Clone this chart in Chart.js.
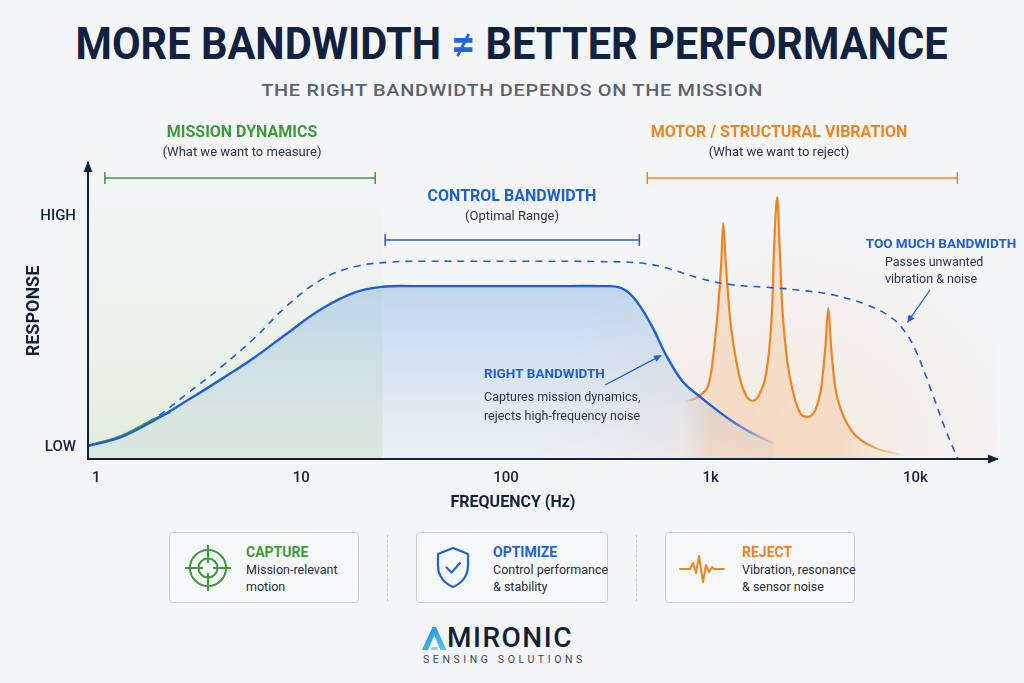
<!DOCTYPE html>
<html>
<head>
<meta charset="utf-8">
<script src="https://cdn.jsdelivr.net/npm/chart.js@4.4.1/dist/chart.umd.min.js"></script>
<style>
  html, body { margin: 0; padding: 0; }
  body {
    width: 1024px; height: 683px; position: relative; overflow: hidden;
    background: #f4f5f7; color: #12233f;
    font-family: Roboto, "Noto Sans", sans-serif;
  }
  .fit { position: absolute; left: 0; width: 1024px; text-align: center; white-space: nowrap; }
  .fit .inner { display: inline-block; transform-origin: center; }
  #title { top: 19px; font-size: 44px; font-weight: 700; line-height: 50px; color: #10223f; }
  #title .neq { color: #1f66dc; }
  #subtitle { top: 79px; font-size: 17px; font-weight: 500; line-height: 22px; color: #5c636d; letter-spacing: 0.6px; }
  #chart { position: absolute; left: 0; top: 100px; }
  .card {
    position: absolute; top: 532px; width: 188px; height: 69px;
    border: 1px solid #c9ced6; border-radius: 4px; background: #f7f8fa;
  }
  .card svg { position: absolute; }
  .card .ct { position: absolute; left: 76px; top: 10px; font-size: 14px; font-weight: 700; line-height: 18px; }
  .card .cd { position: absolute; left: 76px; top: 28px; font-size: 12.5px; line-height: 17px; color: #262d38; white-space: nowrap; }
  .sep { position: absolute; top: 535px; height: 66px; border-left: 1px dashed #c6cad1; }
  #logo { position: absolute; left: 422px; top: 624px; width: 170px; height: 44px; }
  #logo .name { position: absolute; left: 25px; top: 0; font-size: 28px; font-weight: 500; letter-spacing: 1.5px; line-height: 28px; color: #13203a; }
  #logo .tag { position: absolute; left: 1px; top: 30px; font-size: 10.5px; letter-spacing: 3.6px; color: #3a4556; line-height: 12px; white-space: nowrap; }
</style>
</head>
<body>
<div id="title" class="fit"><span class="inner">MORE BANDWIDTH <span class="neq">≠</span> BETTER PERFORMANCE</span></div>
<div id="subtitle" class="fit"><span class="inner">THE RIGHT BANDWIDTH DEPENDS ON THE MISSION</span></div>

<canvas id="chart" width="1024" height="420"></canvas>

<div class="card" style="left:169px">
  <svg style="left:14px;top:11px" width="48" height="48" viewBox="-24 -24 48 48" fill="none" stroke="#3d9a3a" stroke-width="2">
    <circle r="18"/><circle r="9.5"/>
    <path d="M0 -23V-5M0 5V23M-23 0H-5M5 0H23"/>
  </svg>
  <div class="ct" style="color:#3d9a3a">CAPTURE</div>
  <div class="cd">Mission-relevant<br>motion</div>
</div>
<div class="sep" style="left:387px"></div>
<div class="card" style="left:416px;width:190px">
  <svg style="left:16px;top:13px" width="40" height="44" viewBox="0 0 40 44" fill="none" stroke="#1f63d6" stroke-width="2.2" stroke-linejoin="round" stroke-linecap="round">
    <path d="M20 2 L35 8 V20 C35 30 28.5 37.5 20 41 C11.5 37.5 5 30 5 20 V8 Z"/>
    <path d="M13.5 21.5 L18.5 26.5 L27 17"/>
  </svg>
  <div class="ct" style="color:#1f63d6">OPTIMIZE</div>
  <div class="cd">Control performance<br>&amp; stability</div>
</div>
<div class="sep" style="left:636px"></div>
<div class="card" style="left:665px">
  <svg style="left:13px;top:20px" width="46" height="32" viewBox="0 0 46 32" fill="none" stroke="#f0841f" stroke-width="2" stroke-linejoin="round" stroke-linecap="round">
    <path d="M1 16 H11 L14 10 L17 20 L20 3 L24 29 L27 12 L30 19 L33 14 L35 16 H45"/>
  </svg>
  <div class="ct" style="color:#f0841f">REJECT</div>
  <div class="cd">Vibration, resonance<br>&amp; sensor noise</div>
</div>

<div id="logo">
  <svg style="position:absolute;left:0;top:3px" width="25" height="23" viewBox="0 0 25 23">
    <defs>
      <linearGradient id="lg" x1="0" y1="0" x2="1" y2="1">
        <stop offset="0" stop-color="#1c8fe0"/><stop offset="1" stop-color="#58c6f4"/>
      </linearGradient>
    </defs>
    <path d="M0 23 L10.5 0 H14 L24.5 23 H18.5 L12.2 8.5 L6 23 Z" fill="url(#lg)"/>
    <path d="M8.5 23 A3.8 3.8 0 0 1 16 23 Z" fill="#7fd3f7"/>
  </svg>
  <div class="name">MIRONIC</div>
  <div class="tag">SENSING SOLUTIONS</div>
</div>

<script>
// ---- data ----
const xTickValues = [1, 10, 100, 1000, 10000];
const xTickLabels = ['1', '10', '100', '1k', '10k'];
const yTickValues = [4, 82];
const yTickLabels = ['LOW', 'HIGH'];

// right bandwidth (solid blue)
const rightFreq = [0.91, 1.32, 1.93, 2.8, 4.06, 5.94, 8.6, 12.5, 18.3, 25, 35, 60, 110, 200, 300, 361, 418, 506, 612, 733, 888, 1073, 1290, 1560, 2020];
const rightResp = [4.4, 7.4, 13.2, 19.9, 26.9, 34.4, 42.6, 50.6, 56.3, 58.2, 58.4, 58.4, 58.4, 58.4, 58.4, 57.9, 54.7, 46, 34.5, 26, 21, 16.5, 12.5, 9.1, 5.4];

// too much bandwidth (dashed blue)
const wideFreq = [0.91, 1.32, 1.93, 2.8, 4.06, 5.94, 8.6, 12.5, 18.3, 27, 40, 80, 150, 280, 453, 612, 888, 1290, 1885, 2735, 3980, 5820, 7540, 8750, 10000, 12100, 14000, 16100];
const wideResp = [4.4, 7.5, 13.8, 22.3, 31, 41, 52, 60.5, 65, 66.5, 66.8, 66.8, 66.8, 66.7, 66.2, 64.5, 61, 58.8, 58, 57, 55.4, 52, 48, 43.6, 36.8, 22, 10, 0];

// mission dynamics (short green line at low frequency)
const missionFreq = [0.91, 1.32, 1.93, 2.3];
const missionResp = [4.6, 7.8, 13.6, 15.8];

// motor / structural vibration (orange resonances)
const vibFreq = [733, 888, 995, 1073, 1125, 1150, 1185, 1245, 1350, 1446, 1595, 1740, 1885, 1995, 2040, 2113, 2170, 2236, 2360, 2530, 2735, 2963, 3235, 3465, 3630, 3750, 3870, 4055, 4390, 4970, 6210, 8410];
const vibResp = [19.3, 21.6, 27.7, 47, 66, 79.7, 66, 47, 31, 23.3, 19.6, 22.3, 31, 51, 71.6, 88.5, 71.6, 51, 33.4, 22.3, 15.5, 14.2, 16.5, 24.3, 37.8, 51, 37.8, 24.3, 15.5, 8.8, 4.1, 1.4];

// frequency ranges of the three brackets
const bandStart = [1.1, 25.7, 490];
const bandEnd = [23, 448, 16000];

// ---- colours ----
const BLUE = '#1e5fd4';
const ORANGE = '#f0841f';
const GREEN = '#3d9a3a';
const DARK = '#14233c';

const pts = (xs, ys) => xs.map((f, i) => ({ x: f, y: ys[i] }));

function hGrad(chart, stops) {
  const x = chart.scales.x;
  const g = chart.ctx.createLinearGradient(x.left, 0, x.right, 0);
  const w = x.right - x.left;
  stops.forEach(([f, c]) => g.addColorStop(Math.min(1, Math.max(0, (x.getPixelForValue(f) - x.left) / w)), c));
  return g;
}

function arrow(ctx, x1, y1, x2, y2, color) {
  const a = Math.atan2(y2 - y1, x2 - x1);
  ctx.strokeStyle = color; ctx.fillStyle = color; ctx.lineWidth = 1.3;
  ctx.beginPath(); ctx.moveTo(x1, y1); ctx.lineTo(x2 - 5 * Math.cos(a), y2 - 5 * Math.sin(a)); ctx.stroke();
  ctx.beginPath();
  ctx.moveTo(x2, y2);
  ctx.lineTo(x2 - 8 * Math.cos(a) + 3.5 * Math.sin(a), y2 - 8 * Math.sin(a) - 3.5 * Math.cos(a));
  ctx.lineTo(x2 - 8 * Math.cos(a) - 3.5 * Math.sin(a), y2 - 8 * Math.sin(a) + 3.5 * Math.cos(a));
  ctx.closePath(); ctx.fill();
}

function text(ctx, s, x, y, font, color, align) {
  ctx.font = font; ctx.fillStyle = color;
  ctx.textAlign = align || 'center'; ctx.textBaseline = 'middle';
  ctx.fillText(s, x, y);
}

const overlay = {
  id: 'overlay',
  beforeDatasetsDraw(chart) {
    const { ctx, chartArea: a, scales: { x } } = chart;
    ctx.save();
    ctx.beginPath(); ctx.rect(a.left, a.top, a.right - a.left, a.bottom - a.top); ctx.clip();
    // green tint over the mission dynamics zone, fading upwards
    const gx = x.getPixelForValue(25);
    const g = ctx.createLinearGradient(0, a.top, 0, a.bottom);
    g.addColorStop(0, 'rgba(170,210,130,0)');
    g.addColorStop(0.45, 'rgba(160,205,120,0.06)');
    g.addColorStop(1, 'rgba(150,200,105,0.18)');
    ctx.fillStyle = g;
    ctx.fillRect(a.left, a.top, gx - a.left, a.bottom - a.top);
    // soft orange glow behind the resonances
    ctx.translate(x.getPixelForValue(2400), a.bottom);
    ctx.scale(1.1, 1);
    const r = ctx.createRadialGradient(0, 0, 0, 0, 0, 230);
    r.addColorStop(0, 'rgba(255,165,95,0.15)');
    r.addColorStop(0.6, 'rgba(255,175,110,0.07)');
    r.addColorStop(1, 'rgba(255,180,120,0)');
    ctx.fillStyle = r;
    ctx.fillRect(-240, -240, 480, 240);
    ctx.restore();
  },
  afterDraw(chart) {
    const { ctx, chartArea: a, scales: { x } } = chart;
    ctx.save();
    // axis arrow heads
    ctx.fillStyle = DARK;
    ctx.beginPath(); ctx.moveTo(a.left, a.top - 2); ctx.lineTo(a.left - 4.5, a.top + 9); ctx.lineTo(a.left + 4.5, a.top + 9); ctx.closePath(); ctx.fill();
    ctx.beginPath(); ctx.moveTo(a.right + 2, a.bottom); ctx.lineTo(a.right - 9, a.bottom - 4.5); ctx.lineTo(a.right - 9, a.bottom + 4.5); ctx.closePath(); ctx.fill();

    text(ctx, 'FREQUENCY (Hz)', 513, 403, 'bold 16px Roboto', DARK);

    // bracket labels
    const bands = [
      { c: GREEN, y: 78, t: 'MISSION DYNAMICS', s: '(What we want to measure)', tx: 242, ty: 33 },
      { c: BLUE, y: 140, t: 'CONTROL BANDWIDTH', s: '(Optimal Range)', tx: 512, ty: 97 },
      { c: ORANGE, y: 78, t: 'MOTOR / STRUCTURAL VIBRATION', s: '(What we want to reject)', tx: 779, ty: 33 }
    ];
    bands.forEach((b, i) => {
      text(ctx, b.t, b.tx, b.ty, 'bold 16px Roboto', b.c);
      text(ctx, b.s, b.tx, b.ty + 20, '13px Roboto', '#2b3440');
      const x1 = x.getPixelForValue(bandStart[i]);
      const x2 = x.getPixelForValue(bandEnd[i]);
      ctx.strokeStyle = b.c; ctx.lineWidth = 1.5;
      ctx.beginPath();
      ctx.moveTo(x1, b.y); ctx.lineTo(x2, b.y);
      ctx.moveTo(x1, b.y - 6); ctx.lineTo(x1, b.y + 6);
      ctx.moveTo(x2, b.y - 6); ctx.lineTo(x2, b.y + 6);
      ctx.stroke();
    });

    // call-outs
    text(ctx, 'TOO MUCH BANDWIDTH', 941, 145, 'bold 13.5px Roboto', BLUE);
    text(ctx, 'Passes unwanted', 885, 163, '12.5px Roboto', '#2b3440', 'left');
    text(ctx, 'vibration & noise', 885, 180, '12.5px Roboto', '#2b3440', 'left');
    arrow(ctx, 930, 190, 907, 223, BLUE);

    text(ctx, 'RIGHT BANDWIDTH', 484, 275, 'bold 13.5px Roboto', BLUE, 'left');
    text(ctx, 'Captures mission dynamics,', 484, 298, '12.5px Roboto', '#2b3440', 'left');
    text(ctx, 'rejects high-frequency noise', 484, 317, '12.5px Roboto', '#2b3440', 'left');
    arrow(ctx, 605, 285, 662, 255, BLUE);
    ctx.restore();
  }
};

new Chart(document.getElementById('chart'), {
  type: 'line',
  data: {
    datasets: [
      {
        label: 'Right bandwidth',
        data: pts(rightFreq, rightResp),
        order: 0,
        borderWidth: 2.4,
        borderColor: c => c.chart.chartArea ? hGrad(c.chart, [[1150, 'rgba(30,95,212,1)'], [2100, 'rgba(30,95,212,0.05)']]) : BLUE,
        fill: 'origin',
        backgroundColor: c => {
          const ch = c.chart, a = ch.chartArea;
          if (!a) return 'rgba(60,130,215,0.2)';
          const y = ch.scales.y;
          const g = ch.ctx.createLinearGradient(0, y.getPixelForValue(60), 0, a.bottom);
          g.addColorStop(0, 'rgba(70,140,215,0.30)');
          g.addColorStop(1, 'rgba(110,165,225,0.06)');
          return g;
        },
        tension: 0.4,
        pointRadius: 0
      },
      {
        label: 'Mission dynamics',
        data: pts(missionFreq, missionResp),
        order: 1,
        borderWidth: 2,
        borderColor: GREEN,
        fill: false,
        tension: 0.4,
        pointRadius: 0
      },
      {
        label: 'Too much bandwidth',
        data: pts(wideFreq, wideResp),
        order: 2,
        borderWidth: 1.6,
        borderDash: [7, 6],
        borderColor: BLUE,
        fill: false,
        tension: 0.4,
        pointRadius: 0
      },
      {
        label: 'Vibration',
        data: pts(vibFreq, vibResp),
        order: 3,
        borderWidth: 2.2,
        borderColor: c => c.chart.chartArea ? hGrad(c.chart, [[733, 'rgba(240,132,31,0)'], [900, 'rgba(240,132,31,1)'], [5500, 'rgba(240,132,31,1)'], [8400, 'rgba(240,132,31,0.1)']]) : ORANGE,
        fill: 'origin',
        backgroundColor: c => c.chart.chartArea ? hGrad(c.chart, [[733, 'rgba(246,150,60,0)'], [1000, 'rgba(246,150,60,0.2)'], [4500, 'rgba(246,150,60,0.18)'], [8400, 'rgba(246,150,60,0)']]) : 'rgba(246,150,60,0.2)',
        cubicInterpolationMode: 'monotone',
        pointRadius: 0
      }
    ]
  },
  options: {
    responsive: false,
    animation: false,
    layout: { padding: { left: 0, right: 27, top: 63, bottom: 0 } },
    scales: {
      x: {
        type: 'logarithmic',
        min: 0.91,
        max: 25000,
        bounds: 'data',
        afterBuildTicks: s => { s.ticks = xTickValues.map(v => ({ value: v })); },
        afterFit: s => { s.height = 61; },
        grid: { display: false, drawTicks: false },
        border: { display: true, color: DARK, width: 2, z: 1 },
        ticks: {
          padding: 10,
          autoSkip: false,
          maxRotation: 0,
          color: DARK,
          font: { family: 'Roboto', size: 15, weight: '500' },
          callback: (v, i) => xTickLabels[i]
        }
      },
      y: {
        min: 0,
        max: 100,
        afterBuildTicks: s => { s.ticks = yTickValues.map(v => ({ value: v })); },
        afterFit: s => { s.width = 88; },
        grid: { display: false, drawTicks: false },
        border: { display: true, color: DARK, width: 2, z: 1 },
        ticks: {
          padding: 12,
          color: DARK,
          font: { family: 'Roboto', size: 15, weight: '500' },
          callback: (v, i) => yTickLabels[i]
        },
        title: {
          display: true,
          text: 'RESPONSE',
          color: DARK,
          font: { family: 'Roboto', size: 18, weight: 'bold' },
          padding: { top: 24, bottom: 0 }
        }
      }
    },
    plugins: { legend: { display: false }, tooltip: { enabled: false } }
  },
  plugins: [overlay]
});

// squeeze the heading lines to the width they have in the picture
function fit(id, w) {
  const el = document.querySelector(id + ' .inner');
  el.style.transform = 'scaleX(' + (w / el.getBoundingClientRect().width) + ')';
}
fit('#title', 872);
fit('#subtitle', 502);
</script>
</body>
</html>
